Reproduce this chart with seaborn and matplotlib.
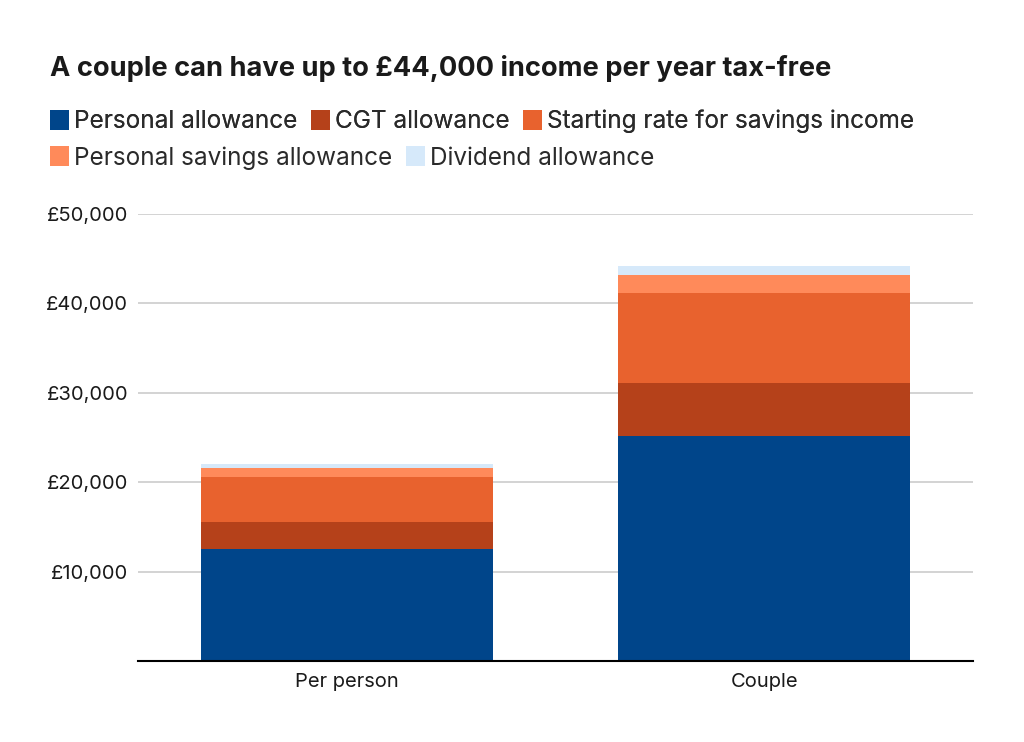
import numpy as np
import pandas as pd
import seaborn as sns
import matplotlib.pyplot as plt
from matplotlib.patches import Patch
from matplotlib.ticker import FuncFormatter

# ---------------- Data ----------------
groups = ["Per person", "Couple"]
components = [
    "Personal allowance",
    "CGT allowance",
    "Starting rate for savings income",
    "Personal savings allowance",
    "Dividend allowance",
]
personal_allowance = [12570, 25140]
cgt_allowance = [3000, 6000]
starting_rate = [5000, 10000]
savings_allowance = [1000, 2000]
dividend_allowance = [500, 1000]
colors = ["#00458A", "#B5411A", "#E8622E", "#FF8A5A", "#D6E9FA"]

series = [personal_allowance, cgt_allowance, starting_rate,
          savings_allowance, dividend_allowance]

# ---------------- Style ----------------
sns.set_style("white")
plt.rcParams["font.family"] = ["Inter", "DejaVu Sans"]

fig = plt.figure(figsize=(10.24, 7.42), dpi=100)
ax = fig.add_axes([0.1348, 0.1092, 0.8155, 0.6024])

bottom = np.zeros(len(groups))
for name, vals, col in zip(components, series, colors):
    df = pd.DataFrame({"group": groups, "value": vals})
    sns.barplot(data=df, x="group", y="value", color=col, width=0.70,
                bottom=bottom, ax=ax, saturation=1, zorder=3, linewidth=0)
    bottom += np.array(vals)

ax.set_ylim(0, 50000)
ax.set_xlim(-0.5, 1.5)
ax.set_yticks([10000, 20000, 30000, 40000, 50000])
ax.yaxis.set_major_formatter(FuncFormatter(lambda v, p: f"£{v:,.0f}"))
ax.grid(axis="y", color="#cccccc", linewidth=1.2, zorder=0)
ax.set_axisbelow(True)
ax.tick_params(axis="both", length=0, labelsize=14.5, colors="#1a1a1a")
ax.tick_params(axis="y", pad=7)
ax.tick_params(axis="x", pad=9)
ax.set_xlabel("")
ax.set_ylabel("")
for s in ["top", "right", "left"]:
    ax.spines[s].set_visible(False)
ax.spines["bottom"].set_color("black")
ax.spines["bottom"].set_linewidth(1.5)
ax.spines["bottom"].set_zorder(4)

# ---------------- Title & legend ----------------
fig.text(0.049, 0.908, "A couple can have up to £44,000 income per year tax-free",
         fontsize=19.6, fontweight="bold", color="#1a1a1a", va="center")

handles = [Patch(facecolor=c, edgecolor="none") for c in colors]
leg_kw = dict(frameon=False, fontsize=17.5, handlelength=0.8, handleheight=0.9,
              handletextpad=0.2, columnspacing=0.55, borderaxespad=0,
              labelcolor="#2a2a2a", loc="center left")
leg1 = fig.legend(handles[:3], components[:3], ncol=3,
                  bbox_to_anchor=(0.039, 0.836), **leg_kw)
fig.add_artist(leg1)
fig.legend(handles[3:], components[3:], ncol=2,
           bbox_to_anchor=(0.039, 0.787), **leg_kw)

plt.savefig("out.png", dpi=100)
plt.close()
